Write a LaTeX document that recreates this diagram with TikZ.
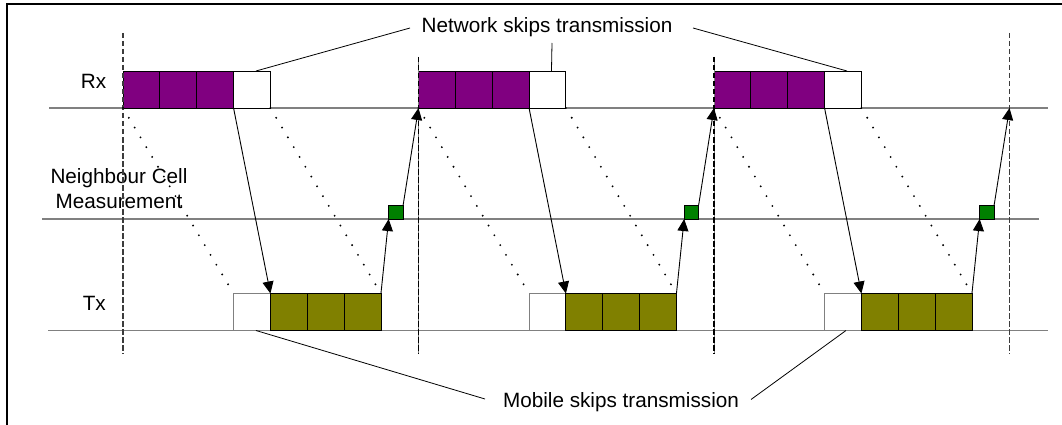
\documentclass[tikz,border=0pt]{standalone}
\usepackage{fontspec}
\setmainfont{Liberation Sans}
\usetikzlibrary{arrows.meta,calc}
\definecolor{purp}{RGB}{128,0,128}
\definecolor{oliv}{RGB}{128,128,0}
\definecolor{grn}{RGB}{0,128,0}
\definecolor{axisgray}{RGB}{128,128,128}
\definecolor{dashgray}{RGB}{60,60,60}
\tikzset{
  lbl/.style={inner sep=0pt, font=\fontsize{20.7}{25}\selectfont},
  slot/.style={rectangle, draw=black, line width=0.9pt, minimum width=36.85pt, minimum height=37pt, inner sep=0pt, outer sep=0pt, anchor=south west},
  rxslot/.style={slot, fill=purp},
  txslot/.style={slot, fill=oliv},
  rxskip/.style={slot, fill=white},
  txskip/.style={slot, fill=white, draw=axisgray},
  meas/.style={rectangle, draw=black, line width=0.9pt, fill=grn, minimum width=14.5pt, minimum height=14pt, inner sep=0pt, outer sep=0pt, anchor=south west},
  axisline/.style={draw=axisgray, line width=1.3pt},
  frameline/.style={draw=dashgray, line width=1.1pt, dash pattern=on 5.5pt off 2.5pt},
  arr/.style={draw=black, line width=0.9pt, -{Triangle[length=12pt,width=11pt]}},
  dotline/.style={draw=black, line width=2.1pt, line cap=round, dash pattern=on 0pt off 11.4pt},
  callout/.style={draw=black, line width=0.8pt}
}
\begin{document}
\begin{tikzpicture}[x=1pt,y=-1pt]
\useasboundingbox (0,0) rectangle (1062,425);
\fill[white] (0,0) rectangle (1062,425);
\draw[line width=2.2pt] (6.7,425) -- (6.7,3.8) -- (1062,3.8);

% axis lines
\coordinate (rxL) at (49,108);  \coordinate (rxR) at (1048,108);
\coordinate (ncL) at (42,219);  \coordinate (ncR) at (1039,219);
\coordinate (txL) at (48,330.5); \coordinate (txR) at (1048,330.5);
\draw[axisline] (rxL) -- (rxR);
\draw[axisline] (ncL) -- (ncR);
\draw[axisline] (txL) -- (txR);

% labels
\node[lbl, anchor=base] (rx) at (93.5,89) {Rx};
\node[lbl, anchor=base] (tx) at (94.3,310) {Tx};
\node[lbl, anchor=base] (nc1) at (119,183) {Neighbour Cell};
\node[lbl, anchor=base] (nc2) at (119,208) {Measurement};
\node[lbl, anchor=base] (net) at (547,33) {Network skips transmission};
\node[lbl, anchor=base] (mob) at (621,407) {Mobile skips transmission};

% slots
\foreach \k in {0,1,2} {
  \pgfmathsetmacro\rxs{123+295.5*\k}
  \pgfmathsetmacro\txs{\rxs+110.55}
  \node[rxslot] (r\k a) at (\rxs,108) {};
  \node[rxslot] (r\k b) at (r\k a.south east) {};
  \node[rxslot] (r\k c) at (r\k b.south east) {};
  \node[rxskip] (r\k w) at (r\k c.south east) {};
  \node[txskip] (t\k w) at (\txs,330.5) {};
  \node[txslot] (t\k a) at (t\k w.south east) {};
  \node[txslot] (t\k b) at (t\k a.south east) {};
  \node[txslot] (t\k c) at (t\k b.south east) {};
  \pgfmathsetmacro\gs{\txs+147.4+7.7}
  \node[meas] (g\k) at (\gs,219) {};
}

% dashed frame boundaries
\coordinate (d0t) at (123,33);    \coordinate (d0b) at (123,354);
\coordinate (d1t) at (418.5,57);  \coordinate (d1b) at (418.5,354);
\coordinate (d2t) at (714,57);    \coordinate (d2b) at (714,354);
\coordinate (d3t) at (1009.5,33); \coordinate (d3b) at (1009.5,354);
\draw[frameline] (d0t) -- (d0b);
\draw[draw=axisgray, line width=0.9pt] (d1t) -- (d1b);
\draw[frameline, draw=black] (d1t) -- (d1b);
\draw[draw=axisgray, line width=0.9pt] (d2t) -- (d2b);
\draw[frameline, draw=black] (d2t) -- (d2b);
\draw[frameline] (d3t) -- (d3b);

% dotted timing lines and arrows
\coordinate (rxEnd) at (1009.5,108);
\foreach \k in {0,1,2} {
  \draw[dotline] (r\k a.south west) -- (t\k w.north west);
  \draw[dotline] (r\k w.south east) -- (t\k c.north east);
  \draw[arr] (r\k w.south west) -- (t\k a.north west);
  \draw[arr] (t\k c.north east) -- (g\k.south west);
}
\draw[arr] (g0.north east) -- (r1a.south west);
\draw[arr] (g1.north east) -- (r2a.south west);
\draw[arr] (g2.north east) -- (rxEnd);

% callouts
\coordinate (netA) at (410,28);
\coordinate (netB) at (552,43);
\coordinate (netC) at (693,28);
\draw[callout] (netA) -- ([xshift=4pt]r0w.north);
\draw[callout] (netB) -- ([xshift=4pt]r1w.north);
\draw[callout] (netC) -- ([xshift=4pt]r2w.north);
\coordinate (mobA) at (485,399);
\coordinate (mobC) at (751,399.5);
\draw[callout] (mobA) -- ([xshift=4pt]t0w.south);
\draw[callout] (mobC) -- ([xshift=3pt]t2w.south);
\end{tikzpicture}
\end{document}
